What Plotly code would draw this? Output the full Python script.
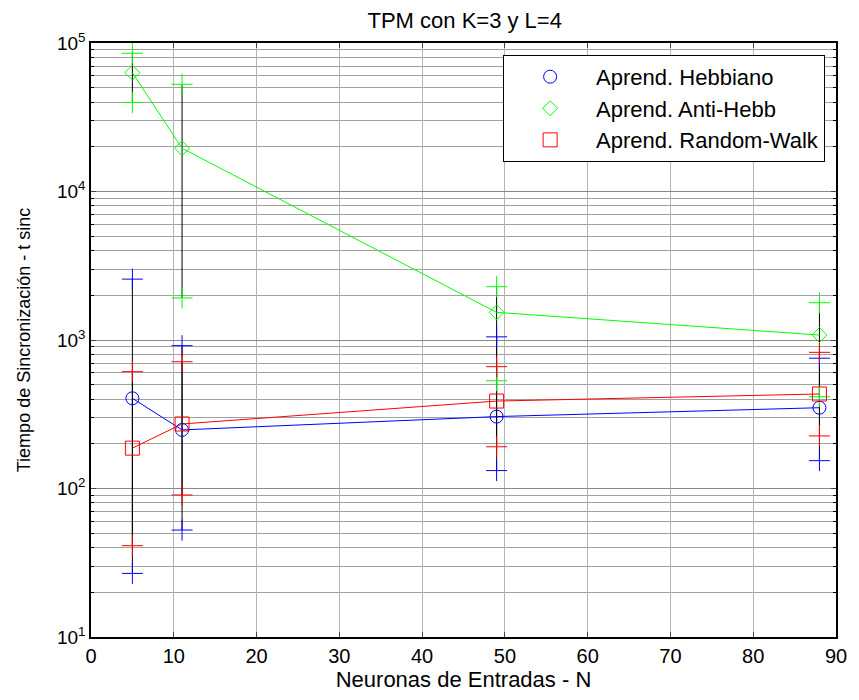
import plotly.graph_objects as go

# ---- data ----
N = [5, 11, 49, 88]

hebb_mean = [405, 248, 305, 350]
hebb_up = [2570, 916, 1050, 754]
hebb_lo = [26.8, 52.5, 132, 154]

anti_mean = [63100, 19550, 1535, 1080]
anti_up = [85300, 52700, 2285, 1782]
anti_lo = [39800, 1920, 532, 415]

rw_mean = [187, 272, 388, 433]
rw_up = [612, 714, 661, 826]
rw_lo = [41.2, 90.4, 191, 226]

names = ["Aprend. Hebbiano", "Aprend. Anti-Hebb", "Aprend. Random-Walk"]
colors = ["#0000FF", "#00FF00", "#FF0000"]
symbols = ["circle-open", "diamond-open", "square-open"]
msizes = [13, 11.5, 14]

x_ticks = [0, 10, 20, 30, 40, 50, 60, 70, 80, 90]
y_ticks = [10, 100, 1000, 10000, 100000]
y_ticktext = ["10<sup>1</sup>", "10<sup>2</sup>", "10<sup>3</sup>", "10<sup>4</sup>", "10<sup>5</sup>"]
y_minor = [k * 10 ** d for d in range(1, 5) for k in range(2, 10)]

series = [
    (hebb_mean, hebb_up, hebb_lo),
    (anti_mean, anti_up, anti_lo),
    (rw_mean, rw_up, rw_lo),
]

FONT = "Liberation Sans, Arial, sans-serif"

fig = go.Figure()

# black vertical error bar stems
for mean, up, lo in series:
    fig.add_trace(go.Scatter(
        x=N, y=mean, mode="markers", marker=dict(size=0.1, opacity=0),
        error_y=dict(type="data", symmetric=False,
                     array=[u - m for u, m in zip(up, mean)],
                     arrayminus=[m - l for m, l in zip(mean, lo)],
                     color="black", thickness=1, width=0),
        showlegend=False, hoverinfo="skip"))

# coloured caps
for (mean, up, lo), c in zip(series, colors):
    fig.add_trace(go.Scatter(
        x=N + N, y=up + lo, mode="markers",
        marker=dict(symbol="cross-thin", size=15, line=dict(color=c, width=1)),
        showlegend=False, hoverinfo="skip"))

# connecting lines
for (mean, up, lo), c in zip(series, colors):
    fig.add_trace(go.Scatter(x=N, y=mean, mode="lines",
                             line=dict(color=c, width=1), showlegend=False))

# markers (legend)
for (mean, up, lo), c, s, ms, nm in zip(series, colors, symbols, msizes, names):
    fig.add_trace(go.Scatter(x=N, y=mean, mode="markers", name=nm,
                             marker=dict(symbol=s, size=ms, color=c,
                                         line=dict(color=c, width=1))))

fig.update_layout(
    width=859, height=700,
    margin=dict(l=91, r=14, t=43, b=63),
    paper_bgcolor="white", plot_bgcolor="white",
    font=dict(family=FONT, size=20, color="black"),
    title=dict(text="TPM con K=3 y L=4", x=0.541, xanchor="center",
               y=0.971, yanchor="middle", font=dict(size=22)),
    legend=dict(x=0.9854, xanchor="right", y=0.98, yanchor="top",
                bgcolor="white", bordercolor="black", borderwidth=1,
                font=dict(size=22), itemwidth=82, tracegroupgap=0),
    showlegend=True,
)

fig.update_xaxes(
    range=[0, 90], tickvals=x_ticks, ticks="inside", ticklen=5,
    showline=True, linecolor="black", linewidth=1.5, mirror="allticks",
    showgrid=True, gridcolor="#b5b5b5", gridwidth=1, zeroline=False,
    tickfont=dict(size=20),
    title=dict(text="Neuronas de Entradas - N", font=dict(size=22), standoff=6),
)
fig.update_yaxes(
    type="log", range=[1, 5], tickvals=y_ticks, ticktext=y_ticktext,
    ticks="inside", ticklen=5,
    showline=True, linecolor="black", linewidth=1.5, mirror="allticks",
    showgrid=True, gridcolor="#888888", gridwidth=1, zeroline=False,
    tickfont=dict(size=19),
    minor=dict(tickvals=y_minor, ticks="inside", ticklen=3, showgrid=True,
               gridcolor="#a0a0a0", gridwidth=1, tickcolor="black"),
    title=dict(text="Tiempo de Sincronización - t sinc", font=dict(size=18), standoff=22),
)

fig.write_html("out.html")
